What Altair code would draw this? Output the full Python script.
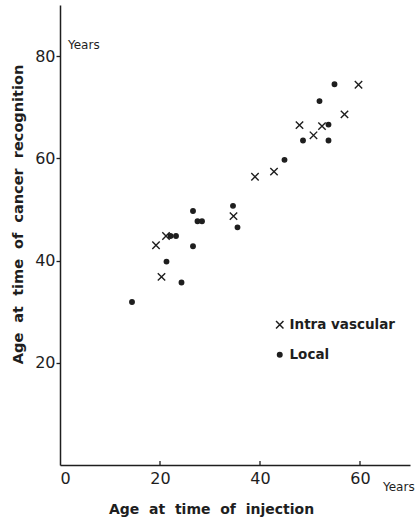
import altair as alt
import pandas as pd

# Intra vascular (crosses)
iv_x = [19.2, 20.3, 21.2, 34.7, 39.0, 42.8, 47.9, 50.7, 52.4, 56.9, 59.7]
iv_y = [43.0, 36.8, 44.8, 48.7, 56.4, 57.4, 66.5, 64.5, 66.3, 68.6, 74.4]
# Local (dots)
loc_x = [14.4, 21.3, 22.1, 23.2, 24.3, 26.6, 26.6, 27.5, 28.4, 34.6, 35.5, 44.9, 48.6, 51.9, 53.7, 53.7, 54.9]
loc_y = [31.9, 39.8, 44.8, 44.8, 35.7, 49.7, 42.8, 47.7, 47.7, 50.7, 46.5, 59.7, 63.5, 71.2, 66.6, 63.5, 74.5]

groups = ["Intra vascular", "Local"]
x_ticks = [0, 20, 40, 60]
y_ticks = [20, 40, 60, 80]
x_tick_marks = [20, 40, 60]

df = pd.DataFrame({
    "age_inj": iv_x + loc_x,
    "age_rec": iv_y + loc_y,
    "group": [groups[0]] * len(iv_x) + [groups[1]] * len(loc_x),
})

FONT = "DejaVu Sans"
INK = "#1e1e1e"
X_PATH = "M-1,-1L1,1M-1,1L1,-1"
SP = " \u00a0"

xscale = alt.Scale(domain=[0, 70], nice=False, zero=True)
yscale = alt.Scale(domain=[0, 90], nice=False, zero=True)

legend = alt.Legend(title=None, orient="none", legendX=213, legendY=313,
                    labelFont=FONT, labelFontSize=13.5, labelFontWeight="bold",
                    labelColor=INK, labelOffset=3, rowPadding=15, padding=0,
                    symbolStrokeColor=INK, symbolStrokeWidth=1.5)

points = alt.Chart(df).mark_point(
    filled=False, strokeWidth=1.4, opacity=1
).encode(
    x=alt.X("age_inj:Q", scale=xscale,
            axis=alt.Axis(values=x_ticks, ticks=False, grid=False, labelPadding=5,
                          labelFontSize=16, labelFont=FONT, labelColor=INK,
                          domainColor=INK, domainWidth=1.5,
                          title=SP.join(["Age", "at", "time", "of", "injection"]),
                          titleFont=FONT, titleFontSize=14, titleFontWeight="bold",
                          titleColor=INK, titleX=151, titleY=44, titleBaseline="middle",
                          titleAlign="center")),
    y=alt.Y("age_rec:Q", scale=yscale,
            axis=alt.Axis(values=y_ticks, tickSize=4, tickColor=INK, tickWidth=1.3,
                          grid=False, labelPadding=1,
                          labelFontSize=16, labelFont=FONT, labelColor=INK,
                          domainColor=INK, domainWidth=1.5,
                          title=SP.join(["Age", "at", "time", "of", "cancer", "recognition"]),
                          titleFont=FONT, titleFontSize=14.5, titleFontWeight="bold",
                          titleColor=INK, titleX=-42, titleY=209, titleAngle=270,
                          titleBaseline="middle", titleAlign="center")),
    shape=alt.Shape("group:N", scale=alt.Scale(domain=groups, range=[X_PATH, "circle"]),
                    legend=legend),
    size=alt.Size("group:N", scale=alt.Scale(domain=groups, range=[55, 20]),
                  legend=legend),
    fill=alt.Fill("group:N", scale=alt.Scale(domain=groups, range=["transparent", INK]),
                  legend=legend),
    stroke=alt.Stroke("group:N", scale=alt.Scale(domain=groups, range=[INK, INK]),
                      legend=legend),
)

tick_df = pd.DataFrame({"t": x_tick_marks})
xticks = alt.Chart(tick_df).mark_rule(color=INK, strokeWidth=1.3).encode(
    x=alt.X("t:Q", scale=xscale),
    y=alt.datum(0),
    y2=alt.datum(0.8),
)

years_top = alt.Chart(pd.DataFrame({"l": ["Years"]})).mark_text(
    font=FONT, fontSize=12, color=INK, align="left", baseline="middle"
).encode(x=alt.datum(1.6), y=alt.datum(82.2), text="l:N")

years_bottom = alt.Chart(pd.DataFrame({"l": ["Years"]})).mark_text(
    font=FONT, fontSize=12, color=INK, align="left", baseline="middle"
).encode(x=alt.datum(64.6), y=alt.datum(-4.3), text="l:N")

chart = alt.layer(points, xticks, years_top, years_bottom).properties(
    width=350, height=460,
    padding={"left": 60, "top": 5, "right": 7, "bottom": 60},
    autosize=alt.AutoSizeParams(type="none"),
    background="white",
).configure_view(strokeWidth=0)

chart.save("out.html", embed_options={"renderer": "svg", "actions": False})
